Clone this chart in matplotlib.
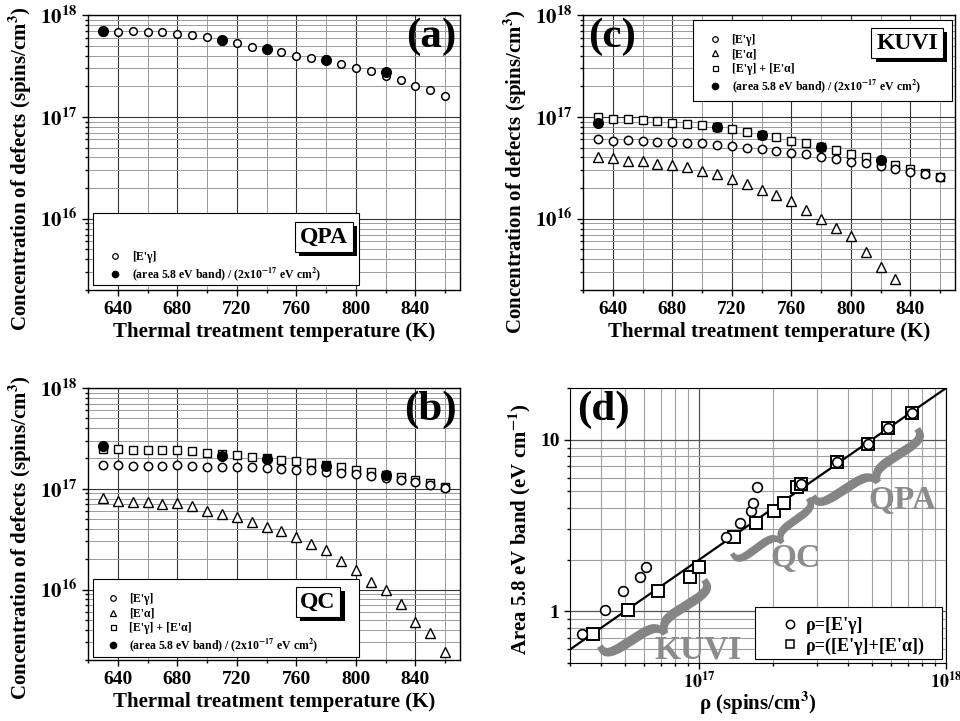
import numpy as np
import matplotlib
matplotlib.use("Agg")
import matplotlib.pyplot as plt
from matplotlib.lines import Line2D
from matplotlib.patches import Rectangle, PathPatch
from matplotlib.textpath import TextPath
from matplotlib.font_manager import FontProperties
from matplotlib.transforms import Affine2D, IdentityTransform
import matplotlib.patheffects as pe
from matplotlib.ticker import LogLocator, MultipleLocator, FuncFormatter, NullFormatter

plt.rcParams['font.family'] = ['Liberation Serif', 'DejaVu Serif']
plt.rcParams['font.weight'] = 'bold'
plt.rcParams['axes.labelweight'] = 'bold'
plt.rcParams['mathtext.fontset'] = 'stix'
plt.rcParams['mathtext.default'] = 'bf'

# temperatures (K)
temps = [630, 640, 650, 660, 670, 680, 690, 700, 710, 720, 730, 740,
         750, 760, 770, 780, 790, 800, 810, 820, 830, 840, 850, 860]
temps_area = [630, 710, 740, 780, 820]

# (a) QPA
qpa_eg = [6.85e17, 6.8e17, 6.9e17, 6.75e17, 6.8e17, 6.45e17, 6.4e17, 6.1e17,
          5.6e17, 5.3e17, 4.9e17, 4.55e17, 4.3e17, 4.0e17, 3.75e17, 3.7e17,
          3.3e17, 3.05e17, 2.85e17, 2.5e17, 2.3e17, 2.03e17, 1.83e17, 1.6e17]
qpa_area = [6.9e17, 5.65e17, 4.6e17, 3.6e17, 2.75e17]

# (c) KUVI
kuvi_eg = [6.0e16, 5.8e16, 5.9e16, 5.8e16, 5.7e16, 5.65e16, 5.6e16, 5.5e16,
           5.3e16, 5.15e16, 4.95e16, 4.8e16, 4.6e16, 4.4e16, 4.3e16, 4.07e16,
           3.9e16, 3.64e16, 3.5e16, 3.3e16, 3.05e16, 2.9e16, 2.77e16, 2.57e16]
kuvi_ea = [4.0e16, 3.93e16, 3.72e16, 3.7e16, 3.48e16, 3.35e16, 3.2e16, 2.94e16,
           2.77e16, 2.44e16, 2.19e16, 1.91e16, 1.72e16, 1.48e16, 1.21e16, 1.0e16,
           8.2e15, 6.7e15, 4.7e15, 3.4e15, 2.55e15]
kuvi_sum = [1.0e17, 9.6e16, 9.5e16, 9.3e16, 9.1e16, 8.8e16, 8.6e16, 8.3e16,
            7.9e16, 7.6e16, 7.1e16, 6.6e16, 6.3e16, 5.8e16, 5.5e16, 5.1e16,
            4.7e16, 4.3e16, 4.0e16, 3.7e16, 3.35e16, 3.1e16, 2.8e16, 2.57e16]
kuvi_area = [8.8e16, 7.9e16, 6.6e16, 5.1e16, 3.75e16]

# (b) QC
qc_eg = [1.74e17, 1.74e17, 1.70e17, 1.70e17, 1.70e17, 1.71e17, 1.70e17, 1.65e17,
         1.65e17, 1.65e17, 1.64e17, 1.61e17, 1.57e17, 1.55e17, 1.52e17, 1.47e17,
         1.44e17, 1.40e17, 1.33e17, 1.29e17, 1.21e17, 1.16e17, 1.09e17, 1.02e17]
qc_ea = [8.1e16, 7.6e16, 7.35e16, 7.35e16, 7.1e16, 7.2e16, 6.8e16, 6.07e16,
         5.67e16, 5.26e16, 4.69e16, 4.18e16, 3.79e16, 3.33e16, 2.84e16, 2.45e16,
         1.92e16, 1.58e16, 1.19e16, 1.0e16, 7.2e15, 4.8e15, 3.67e15, 2.4e15]
qc_sum = [2.48e17, 2.48e17, 2.41e17, 2.41e17, 2.41e17, 2.43e17, 2.36e17, 2.26e17,
          2.2e17, 2.15e17, 2.07e17, 2.0e17, 1.94e17, 1.88e17, 1.80e17, 1.73e17,
          1.65e17, 1.55e17, 1.47e17, 1.38e17, 1.31e17, 1.21e17, 1.14e17, 1.04e17]
qc_area = [2.68e17, 2.13e17, 1.98e17, 1.70e17, 1.38e17]

# (d) area of the 5.8 eV band vs spin density (KUVI, QC, QPA)
rho_eg = [3.35e16, 4.16e16, 4.91e16, 5.77e16, 6.1e16,
          1.29e17, 1.47e17, 1.62e17, 1.65e17, 1.71e17,
          2.59e17, 3.61e17, 4.82e17, 5.81e17, 7.25e17]
rho_sum = [3.71e16, 5.13e16, 6.81e16, 9.15e16, 9.94e16,
           1.39e17, 1.70e17, 2.01e17, 2.21e17, 2.50e17,
           2.59e17, 3.61e17, 4.82e17, 5.81e17, 7.25e17]
band_area = [0.743, 1.02, 1.32, 1.58, 1.81,
             2.7, 3.29, 3.84, 4.25, 5.3,
             5.5, 7.43, 9.39, 11.65, 14.3]
cross_section = 2e-17  # eV cm^2

lbl_eg = "[E'γ]"
lbl_ea = "[E'α]"
lbl_sum = "[E'γ] + [E'α]"
lbl_area = "(area 5.8 eV band) / (2x10$^{-17}$ eV cm$^{2}$)"

fig = plt.figure(figsize=(9.6, 7.21), dpi=100)
ax_a = fig.add_axes([0.0917, 0.5978, 0.3875, 0.3814])
ax_c = fig.add_axes([0.6073, 0.5978, 0.3875, 0.3814])
ax_b = fig.add_axes([0.0917, 0.0846, 0.3875, 0.3773])
ax_d = fig.add_axes([0.5938, 0.0804, 0.3917, 0.3814])

dec_fmt = FuncFormatter(lambda v, p: r'$\mathbf{10^{%d}}$' % round(np.log10(v)))


def style_temp_axes(ax, label_y):
    ax.set_xlim(620, 870)
    ax.set_yscale('log')
    ax.set_ylim(2e15, 1e18)
    ax.xaxis.set_major_locator(MultipleLocator(40))
    ax.xaxis.set_minor_locator(MultipleLocator(20))
    ax.yaxis.set_major_locator(LogLocator(base=10, numticks=10))
    ax.yaxis.set_minor_locator(LogLocator(base=10, subs=np.arange(2, 10), numticks=30))
    ax.yaxis.set_major_formatter(dec_fmt)
    ax.yaxis.set_minor_formatter(NullFormatter())
    ax.set_axisbelow(True)
    ax.grid(which='major', color='#333333', lw=0.8)
    ax.grid(which='minor', color='#9a9a9a', lw=0.7)
    ax.tick_params(which='both', direction='out', width=1)
    ax.tick_params(which='major', length=4)
    ax.tick_params(which='minor', length=2.5)
    ax.tick_params(axis='x', labelsize=14, pad=4)
    ax.tick_params(axis='y', labelsize=15)
    for s in ax.spines.values():
        s.set_linewidth(1.0)
    ax.set_xlabel('Thermal treatment temperature (K)', fontsize=15, labelpad=3)
    ax.set_ylabel('Concentration of defects (spins/cm$^{3}$)', fontsize=15)
    ax.yaxis.set_label_coords(-0.146, label_y)


def tag_box(ax, x, y, txt):
    t = ax.text(x, y, txt, transform=ax.transAxes, fontsize=17, ha='center', va='center',
                zorder=7, bbox=dict(boxstyle='square,pad=0.2', fc='white', ec='black', lw=0.8))
    t.get_bbox_patch().set_path_effects([
        pe.SimplePatchShadow(offset=(3, -3), shadow_rgbFace='black', alpha=1.0), pe.Normal()])


def legend_frame(ax, x0, y0, w, h):
    ax.add_patch(Rectangle((x0, y0), w, h, transform=ax.transAxes, fc='white',
                           ec='black', lw=0.8, zorder=4))


open_c = dict(ls='none', marker='o', mfc='white', mec='black', mew=1.1)
open_t = dict(ls='none', marker='^', mfc='white', mec='black', mew=1.0)
open_s = dict(ls='none', marker='s', mfc='white', mec='black', mew=1.0)
full_c = dict(ls='none', marker='o', mfc='black', mec='black')

h_eg = Line2D([], [], marker='o', ls='none', mfc='white', mec='black', ms=4, mew=0.9)
h_ea = Line2D([], [], marker='^', ls='none', mfc='white', mec='black', ms=4, mew=0.9)
h_sum = Line2D([], [], marker='s', ls='none', mfc='white', mec='black', ms=3.6, mew=0.9)
h_area = Line2D([], [], marker='o', ls='none', mfc='black', mec='black', ms=4.5)
leg_kw = dict(frameon=False, fontsize=8.5, handletextpad=0.8, labelspacing=0.2,
              handlelength=1.2, borderaxespad=0, borderpad=0)

# ---- (a) QPA
ax = ax_a
style_temp_axes(ax, 0.44)
ax.plot(temps, qpa_eg, ms=5.5, **open_c)
ax.plot(temps_area, qpa_area, ms=7, **full_c)
ax.text(0.99, 0.99, '(a)', transform=ax.transAxes, fontsize=31, ha='right', va='top')
legend_frame(ax, 0.013, 0.018, 0.715, 0.262)
tag_box(ax, 0.634, 0.193, 'QPA')
ax.legend([h_eg, h_area], [lbl_eg, lbl_area], loc='lower left',
          bbox_to_anchor=(0.054, 0.025), **leg_kw).set_zorder(6)

# ---- (c) KUVI
ax = ax_c
style_temp_axes(ax, 0.43)
ax.plot(temps, kuvi_sum, ms=5.5, **open_s)
ax.plot(temps, kuvi_eg, ms=6, **open_c)
ax.plot(temps[:len(kuvi_ea)], kuvi_ea, ms=7, **open_t)
ax.plot(temps_area, kuvi_area, ms=7, **full_c)
ax.text(0.013, 0.99, '(c)', transform=ax.transAxes, fontsize=31, ha='left', va='top')
legend_frame(ax, 0.296, 0.687, 0.696, 0.295)
tag_box(ax, 0.871, 0.898, 'KUVI')
ax.legend([h_eg, h_ea, h_sum, h_area], [lbl_eg, lbl_ea, lbl_sum, lbl_area], loc='upper left',
          bbox_to_anchor=(0.336, 0.93), **leg_kw).set_zorder(6)

# ---- (b) QC
ax = ax_b
style_temp_axes(ax, 0.449)
ax.plot(temps, qc_sum, ms=5.5, **open_s)
ax.plot(temps, qc_eg, ms=6, **open_c)
ax.plot(temps, qc_ea, ms=7, **open_t)
ax.plot(temps_area, qc_area, ms=7, **full_c)
ax.text(0.99, 0.99, '(b)', transform=ax.transAxes, fontsize=31, ha='right', va='top')
legend_frame(ax, 0.013, 0.011, 0.715, 0.287)
tag_box(ax, 0.618, 0.213, 'QC')
ax.legend([h_eg, h_ea, h_sum, h_area], [lbl_eg, lbl_ea, lbl_sum, lbl_area], loc='lower left',
          bbox_to_anchor=(0.048, 0.022), **leg_kw).set_zorder(6)

# ---- (d) area vs rho
ax = ax_d
ax.set_xscale('log')
ax.set_yscale('log')
ax.set_xlim(3e16, 1e18)
ax.set_ylim(0.5, 20)
ax.xaxis.set_major_locator(LogLocator(base=10, numticks=10))
ax.xaxis.set_minor_locator(LogLocator(base=10, subs=np.arange(2, 10), numticks=30))
ax.xaxis.set_major_formatter(dec_fmt)
ax.xaxis.set_minor_formatter(NullFormatter())
ax.yaxis.set_major_locator(LogLocator(base=10, numticks=10))
ax.yaxis.set_minor_locator(LogLocator(base=10, subs=np.arange(2, 10), numticks=30))
ax.yaxis.set_major_formatter(FuncFormatter(lambda v, p: '%g' % v))
ax.yaxis.set_minor_formatter(NullFormatter())
ax.set_axisbelow(True)
ax.grid(which='major', color='#555555', lw=0.9)
ax.grid(which='minor', color='#a0a0a0', lw=0.8)
ax.tick_params(which='both', direction='out', width=1)
ax.tick_params(which='major', length=4, labelsize=14)
ax.tick_params(axis='x', which='major', labelsize=13, pad=2)
ax.tick_params(which='minor', length=2.5)

xl = np.array(ax.get_xlim())
ax.plot(xl, xl * cross_section, color='black', lw=1.6, zorder=3)
ax.plot(rho_sum, band_area, ls='none', marker='s', ms=8, mfc='white', mec='black', mew=1.4, zorder=4)
ax.plot(rho_eg, band_area, ls='none', marker='o', ms=7, mfc='white', mec='black', mew=1.2, zorder=4)
ax.set_xlabel('ρ (spins/cm$^{3}$)', fontsize=15, labelpad=-1)
ax.set_ylabel('Area 5.8 eV band (eV cm$^{-1}$)', fontsize=15)
ax.yaxis.set_label_coords(-0.098, 0.487)
ax.text(0.02, 0.99, '(d)', transform=ax.transAxes, fontsize=31, ha='left', va='top')

brace_font = FontProperties(family='Liberation Serif', weight='bold')


def brace(ax, p0, p1, depth):
    # stretched "}" glyph between two picture-pixel points, tip pointing away from the fit line
    p0 = np.array([p0[0], 721 - p0[1]], float)
    p1 = np.array([p1[0], 721 - p1[1]], float)
    d = p1 - p0
    L = np.hypot(*d)
    ang = np.degrees(np.arctan2(d[1], d[0]))
    u = d / L
    n = np.array([u[1], -u[0]])
    c = (p0 + p1) / 2 + n * depth / 2
    tp = TextPath((0, 0), '}', size=100, prop=brace_font)
    bb = tp.get_extents()
    tr = (Affine2D().translate(-(bb.x0 + bb.x1) / 2, -(bb.y0 + bb.y1) / 2)
          .scale(depth / bb.width, L / bb.height).rotate_deg(ang - 90).translate(*c))
    patch = PathPatch(tr.transform_path(tp), fc='#858585', ec='none',
                      transform=IdentityTransform(), zorder=2.5, clip_on=False)
    ax.add_artist(patch)


def px_text(ax, px, py, txt):
    ax.text((px - 570) / 376, (663 - py) / 275, txt, transform=ax.transAxes, fontsize=24,
            color='#8c8c8c', ha='center', va='center', zorder=2.5)


brace(ax, (597, 648), (707, 578), 25)
brace(ax, (730, 555), (810, 497), 21)
brace(ax, (810, 498), (920, 427), 24)
px_text(ax, 698, 650, 'KUVI')
px_text(ax, 795, 558, 'QC')
px_text(ax, 902, 500, 'QPA')

legend_frame(ax, 0.492, 0.015, 0.497, 0.189)
h_rg = Line2D([], [], marker='o', ls='none', mfc='white', mec='black', ms=6, mew=1.1)
h_rs = Line2D([], [], marker='s', ls='none', mfc='white', mec='black', ms=5.5, mew=1.1)
ax.legend([h_rg, h_rs], ["ρ=[E'γ]", "ρ=([E'γ]+[E'α])"], loc='lower left',
          bbox_to_anchor=(0.561, 0.03), frameon=False, fontsize=13, handletextpad=0.35,
          labelspacing=0.2, borderpad=0, handlelength=1.0, borderaxespad=0).set_zorder(6)

fig.savefig('out.png', dpi=100)
